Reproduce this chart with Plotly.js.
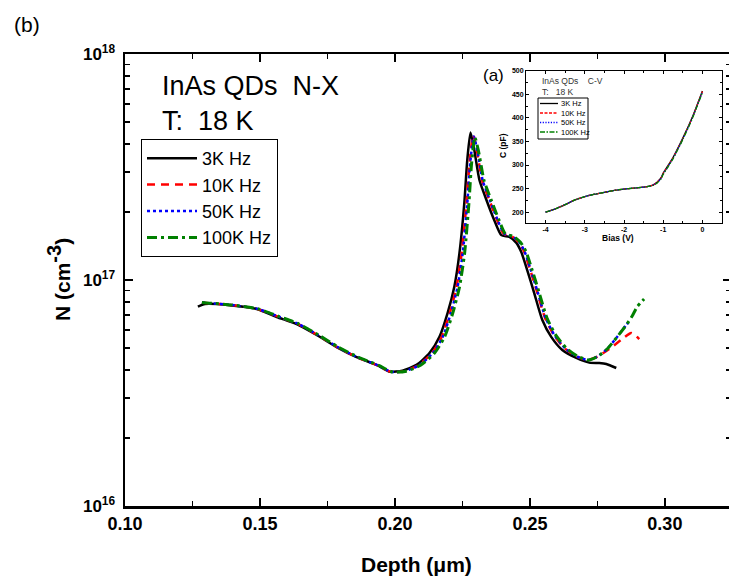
<!DOCTYPE html>
<html>
<head>
<meta charset="utf-8">
<script src="https://cdn.plot.ly/plotly-3.0.1.min.js"></script>
<style>
html,body{margin:0;padding:0;overflow:hidden;background:#fff;width:729px;height:585px;}
#chart{width:735px;height:585px;}
</style>
</head>
<body>
<div id="chart"></div>
<script>
// ---- Main panel (b): carrier profile N vs depth ----
const depth3k = [0.1270,0.1296,0.1388,0.1488,0.1562,0.1636,0.1710,0.1784,0.1858,0.1932,0.1980,0.2028,0.2080,0.2128,0.2165,0.2195,0.2220,0.2239,0.2257,0.2268,0.2280,0.2294,0.2313,0.2339,0.2368,0.2394,0.2424,0.2450,0.2468,0.2490,0.2516,0.2546,0.2579,0.2620,0.2672,0.2720,0.2757,0.2783,0.2820];
const n3k = [7.62e16,7.83e16,7.74e16,7.44e16,6.86e16,6.38e16,5.71e16,5.05e16,4.56e16,4.21e16,3.93e16,3.97e16,4.21e16,4.75e16,5.61e16,7.14e16,9.34e16,1.315e17,2.19e17,3.40e17,4.49e17,3.76e17,2.77e17,2.26e17,1.84e17,1.58e17,1.55e17,1.46e17,1.33e17,1.107e17,8.75e16,6.65e16,5.60e16,4.90e16,4.52e16,4.31e16,4.29e16,4.25e16,4.08e16];

const depth10k = [0.1285,0.1310,0.1390,0.1490,0.1565,0.1640,0.1712,0.1786,0.1860,0.1935,0.1985,0.2035,0.2087,0.2137,0.2173,0.2203,0.2228,0.2247,0.2265,0.2277,0.2290,0.2304,0.2323,0.2349,0.2377,0.2403,0.2433,0.2459,0.2478,0.2500,0.2526,0.2556,0.2589,0.2629,0.2674,0.2715,0.2750,0.2794,0.2838,0.2875,0.2890,0.2905];
const n10k = [7.95e16,7.90e16,7.76e16,7.45e16,6.90e16,6.40e16,5.72e16,5.05e16,4.55e16,4.19e16,3.92e16,3.95e16,4.20e16,4.74e16,5.60e16,7.12e16,9.30e16,1.31e17,2.18e17,3.35e17,4.38e17,3.72e17,2.76e17,2.27e17,1.86e17,1.60e17,1.56e17,1.47e17,1.34e17,1.12e17,8.90e16,6.80e16,5.70e16,4.98e16,4.58e16,4.43e16,4.58e16,4.95e16,5.43e16,5.83e16,5.70e16,5.48e16];

const depth50k = [0.1285,0.1310,0.1392,0.1492,0.1567,0.1641,0.1714,0.1788,0.1862,0.1937,0.1987,0.2037,0.2090,0.2140,0.2177,0.2207,0.2232,0.2251,0.2268,0.2279,0.2292,0.2306,0.2325,0.2351,0.2379,0.2405,0.2435,0.2461,0.2480,0.2502,0.2528,0.2558,0.2591,0.2631,0.2676,0.2715,0.2750,0.2786,0.2823,0.2857,0.2866];
const n50k = [7.95e16,7.90e16,7.76e16,7.45e16,6.90e16,6.40e16,5.72e16,5.05e16,4.55e16,4.19e16,3.92e16,3.95e16,4.20e16,4.74e16,5.60e16,7.12e16,9.30e16,1.31e17,2.18e17,3.30e17,4.32e17,3.70e17,2.76e17,2.27e17,1.86e17,1.60e17,1.56e17,1.47e17,1.34e17,1.12e17,8.90e16,6.80e16,5.70e16,4.98e16,4.58e16,4.43e16,4.58e16,4.95e16,5.60e16,6.32e16,6.50e16];

const depth100k = [0.1285,0.1312,0.1394,0.1494,0.1569,0.1643,0.1716,0.1790,0.1865,0.1940,0.1990,0.2042,0.2095,0.2146,0.2184,0.2214,0.2239,0.2258,0.2274,0.2284,0.2296,0.2310,0.2330,0.2356,0.2384,0.2409,0.2439,0.2465,0.2485,0.2507,0.2533,0.2563,0.2596,0.2636,0.2679,0.2717,0.2750,0.2786,0.2823,0.2857,0.2879,0.2897,0.2923];
const n100k = [7.95e16,7.90e16,7.76e16,7.45e16,6.90e16,6.40e16,5.72e16,5.05e16,4.55e16,4.19e16,3.92e16,3.95e16,4.20e16,4.74e16,5.60e16,7.12e16,9.30e16,1.31e17,2.18e17,3.28e17,4.28e17,3.70e17,2.76e17,2.27e17,1.86e17,1.60e17,1.56e17,1.47e17,1.34e17,1.12e17,8.90e16,6.80e16,5.70e16,4.98e16,4.58e16,4.43e16,4.58e16,4.95e16,5.60e16,6.32e16,6.93e16,7.60e16,8.24e16];

const seriesNames = ['3K Hz','10K Hz','50K Hz','100K Hz'];
const seriesColors = ['#000000','#ff0000','#0000ff','#008000'];
const seriesDash = ['solid','8px,6px','dot','10px,4px,3px,4px'];

// ---- Inset (a): C-V curves ----
const bias3k = [-4,-3.75,-3.5,-3.25,-3,-2.75,-2.5,-2.25,-2,-1.75,-1.5,-1.35,-1.25,-1.15,-1.05,-1,-0.9,-0.75,-0.5,-0.25,0];
const cap3k = [200,207,216,226,233,238,242,246,249,251,253,255,258,264,274,283,296,316,357,403,457];
const bias10k = [-4,-3.75,-3.5,-3.25,-3,-2.75,-2.5,-2.25,-2,-1.75,-1.5,-1.35,-1.25,-1.15,-1.05,-1,-0.9,-0.75,-0.5,-0.25,0];
const cap10k = [200,207,216,226,233,238,242,246,249,251,253,255,258,264,273,282,295,315,356,402,456];
const bias50k = [-4,-3.75,-3.5,-3.25,-3,-2.75,-2.5,-2.25,-2,-1.75,-1.5,-1.35,-1.25,-1.15,-1.05,-1,-0.9,-0.75,-0.5,-0.25,0];
const cap50k = [200,207,216,226,233,238,242,246,249,251,253,255,258,263,272,281,294,314,355,401,455];
const bias100k = [-4,-3.75,-3.5,-3.25,-3,-2.75,-2.5,-2.25,-2,-1.75,-1.5,-1.35,-1.25,-1.15,-1.05,-1,-0.9,-0.75,-0.5,-0.25,0];
const cap100k = [200,207,216,226,233,238,242,246,249,251,253,255,257,262,271,280,293,313,354,400,454];

const yTickVals = [1e16,1e17,1e18];
const yTickText = ['10<sup>16</sup>','10<sup>17</sup>','10<sup>18</sup>'];
const yMinorVals = [2e16,3e16,4e16,5e16,6e16,7e16,8e16,9e16,2e17,3e17,4e17,5e17,6e17,7e17,8e17,9e17];

const mainX = [depth3k,depth10k,depth50k,depth100k];
const mainY = [n3k,n10k,n50k,n100k];
const insetX = [bias3k,bias10k,bias50k,bias100k];
const insetY = [cap3k,cap10k,cap50k,cap100k];
const mainWidths = [2.5,2.5,2.5,3];

const traces = [];
for (let i=0;i<4;i++){
  traces.push({x:mainX[i], y:mainY[i], type:'scatter', mode:'lines', name:seriesNames[i],
    line:{color:seriesColors[i], width:mainWidths[i], dash:seriesDash[i], shape:'spline', smoothing:0.6},
    xaxis:'x', yaxis:'y', legend:'legend'});
}
const insetDash = ['solid','3px,1.5px','1.2px,1.5px','5px,1.5px,1.5px,1.5px'];
for (let i=0;i<4;i++){
  traces.push({x:insetX[i], y:insetY[i], type:'scatter', mode:'lines', name:seriesNames[i],
    line:{color:seriesColors[i], width:1.3, dash:insetDash[i], shape:'spline', smoothing:0.6},
    xaxis:'x2', yaxis:'y2', showlegend:false});
}

// helpers for paper coords from pixel positions
const L=125, T=54, W=606, H=452;
const px = v => (v-L)/W;
const py = v => (T+H-v)/H;

const F = 'Arial, "Liberation Sans", sans-serif';

// inset legend (drawn as a small key box)
const keyRows = [103.5,113,122.5,132];
const keyShapes = [{type:'rect', xref:'paper', yref:'paper', x0:px(538), x1:px(588), y0:py(139), y1:py(98), fillcolor:'#fff', line:{color:'#000', width:1}}];
const keyAnn = [];
for (let i=0;i<4;i++){
  keyShapes.push({type:'line', xref:'paper', yref:'paper', x0:px(540), x1:px(558), y0:py(keyRows[i]), y1:py(keyRows[i]),
    line:{color:seriesColors[i], width:1.3, dash:insetDash[i]}});
  keyAnn.push({text:seriesNames[i], xref:'paper', yref:'paper', x:px(558.5), y:py(keyRows[i]), xanchor:'left', yanchor:'middle',
    showarrow:false, font:{family:F, size:7.5, color:'#000'}});
}

const layout = {
  width:735, height:585,
  margin:{l:125, r:4, t:54, b:79},
  paper_bgcolor:'#fff', plot_bgcolor:'rgba(0,0,0,0)',
  font:{family:F, color:'#000'},
  showlegend:true,
  xaxis:{range:[0.1,0.3245], domain:[0,1], anchor:'y', showgrid:false, zeroline:false,
    showline:true, linewidth:2.5, linecolor:'#000', mirror:'ticks',
    ticks:'inside', ticklen:8, tickwidth:2, tickcolor:'#000',
    tickmode:'array', tickvals:[0.10,0.15,0.20,0.25,0.30], ticktext:['0.10','0.15','0.20','0.25','0.30'],
    tickfont:{family:F, size:18, weight:'bold'},
    minor:{tickmode:'array', tickvals:[0.125,0.175,0.225,0.275,0.325], ticks:'inside', ticklen:5, tickwidth:1.5, tickcolor:'#000'}},
  yaxis:{type:'log', range:[16,18], domain:[0,1], anchor:'x', showgrid:false, zeroline:false,
    showline:true, linewidth:2.5, linecolor:'#000', mirror:'ticks',
    ticks:'inside', ticklen:8, tickwidth:2, tickcolor:'#000', ticklabelstandoff:4,
    tickmode:'array', tickvals:yTickVals, ticktext:yTickText,
    tickfont:{family:F, size:17, weight:'bold'},
    minor:{tickmode:'array', tickvals:yMinorVals, ticks:'inside', ticklen:5, tickwidth:1.5, tickcolor:'#000'}},
  xaxis2:{range:[-4.5,0.5], domain:[px(526),px(722)], anchor:'y2', showgrid:false, zeroline:false,
    showline:true, linewidth:1, linecolor:'#000', mirror:'ticks',
    ticks:'inside', ticklen:3, tickwidth:1, tickcolor:'#000',
    tickmode:'array', tickvals:[-4,-3,-2,-1,0], ticktext:['-4','-3','-2','-1','0'],
    tickfont:{family:F, size:7, weight:'bold'},
    minor:{tickmode:'array', tickvals:[-4.5,-3.5,-2.5,-1.5,-0.5,0.5], ticks:'inside', ticklen:2, tickwidth:1, tickcolor:'#000'}},
  yaxis2:{range:[177,500], domain:[py(223),py(70.7)], anchor:'x2', showgrid:false, zeroline:false,
    showline:true, linewidth:1, linecolor:'#000', mirror:'ticks',
    ticks:'inside', ticklen:3, tickwidth:1, tickcolor:'#000',
    tickmode:'array', tickvals:[200,250,300,350,400,450,500], ticktext:['200','250','300','350','400','450','500'],
    tickfont:{family:F, size:7, weight:'bold'},
    minor:{tickmode:'array', tickvals:[225,275,325,375,425,475], ticks:'inside', ticklen:2, tickwidth:1, tickcolor:'#000'}},
  legend:{x:px(141), y:py(139), xanchor:'left', yanchor:'top', bgcolor:'#fff', itemwidth:50,
    bordercolor:'#000', borderwidth:1, font:{family:F, size:18, color:'#000'}, tracegroupgap:0},
  shapes:[
    {type:'rect', xref:'x2 domain', yref:'y2 domain', x0:0, x1:1, y0:0, y1:1, fillcolor:'#fff', line:{width:0}, layer:'below'}
  ].concat(keyShapes),
  annotations:[
    {text:'(b)', xref:'paper', yref:'paper', x:px(12), y:py(24), xanchor:'left', yanchor:'middle', showarrow:false, font:{family:F, size:21}},
    {text:'InAs QDs\u00a0\u00a0N-X', xref:'paper', yref:'paper', x:px(160), y:py(86), xanchor:'left', yanchor:'middle', showarrow:false, font:{family:F, size:27}},
    {text:'T:\u00a0\u00a018 K', xref:'paper', yref:'paper', x:px(160), y:py(121), xanchor:'left', yanchor:'middle', showarrow:false, font:{family:F, size:27}},
    {text:'Depth (\u03bcm)', xref:'paper', yref:'paper', x:px(416), y:py(564), xanchor:'center', yanchor:'middle', showarrow:false, font:{family:F, size:21, weight:'bold'}},
    {text:'N (cm<sup><span style="font-size:20px">-3</span></sup>)', xref:'paper', yref:'paper', x:px(58), y:py(280), xanchor:'center', yanchor:'middle', textangle:-90, showarrow:false, font:{family:F, size:21, weight:'bold'}},
    {text:'(a)', xref:'paper', yref:'paper', x:px(493), y:py(75), xanchor:'center', yanchor:'middle', showarrow:false, font:{family:F, size:17}},
    {text:'InAs QDs\u00a0\u00a0\u00a0\u00a0C-V', xref:'paper', yref:'paper', x:px(540), y:py(81), xanchor:'left', yanchor:'middle', showarrow:false, font:{family:F, size:8.5, color:'#333'}},
    {text:'T:\u00a0\u00a0\u00a018 K', xref:'paper', yref:'paper', x:px(540), y:py(92), xanchor:'left', yanchor:'middle', showarrow:false, font:{family:F, size:8.5, color:'#333'}},
    {text:'Bias (V)', xref:'paper', yref:'paper', x:px(618), y:py(238), xanchor:'center', yanchor:'middle', showarrow:false, font:{family:F, size:8.5, weight:'bold'}},
    {text:'C (pF)', xref:'paper', yref:'paper', x:px(503), y:py(146), xanchor:'center', yanchor:'middle', textangle:-90, showarrow:false, font:{family:F, size:8.5, weight:'bold'}}
  ].concat(keyAnn)
};

Plotly.newPlot('chart', traces, layout, {staticPlot:true, displayModeBar:false});
</script>
</body>
</html>
